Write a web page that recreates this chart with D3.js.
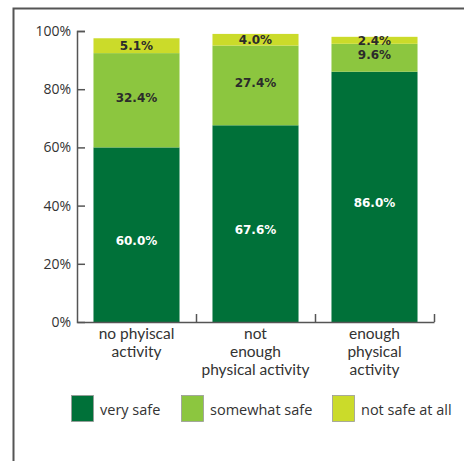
<!DOCTYPE html>
<html><head><meta charset="utf-8">
<script src="https://cdn.jsdelivr.net/npm/d3@7"></script>
<style>body{margin:0;background:#fff}svg{display:block}</style>
</head><body>
<script>
const categories = [["no phyiscal","activity"],["not","enough","physical activity"],["enough","physical","activity"]];
const seriesNames = ["very safe","somewhat safe","not safe at all"];
const verySafe = [60.0, 67.6, 86.0];
const somewhatSafe = [32.4, 27.4, 9.6];
const notSafe = [5.1, 4.0, 2.4];
const yTicks = [0, 20, 40, 60, 80, 100];
const colors = ["#007139", "#8cc63f", "#cbdb2a"];
const labelColors = ["#ffffff", "#2b2b2b", "#2b2b2b"];

const W = 464, H = 461;
const svg = d3.select("body").append("svg").attr("width", W).attr("height", H);

// frame
svg.append("path").attr("d", "M13.5,470V8.5H470").attr("fill","none").attr("stroke","#555").attr("stroke-width",2);

const x0 = 77, x1 = 434, yTop = 31, yBot = 322;
const x = d3.scaleBand().domain([0,1,2]).range([x0, x1]).paddingInner(0.277).paddingOuter(0.1385);
const y = d3.scaleLinear().domain([0,100]).range([yBot, yTop]);

const rows = [0,1,2].map(i => ({i, v:[verySafe[i], somewhatSafe[i], notSafe[i]]}));
const stack = d3.stack().keys([0,1,2]).value((d,k)=>d.v[k]);
const layers = stack(rows);

layers.forEach((layer, k) => {
  svg.append("g").selectAll("rect").data(layer).join("rect")
    .attr("x", d => x(d.data.i)).attr("width", x.bandwidth())
    .attr("y", d => y(d[1])).attr("height", d => y(d[0]) - y(d[1]))
    .attr("fill", colors[k]);
});
layers.forEach((layer, k) => {
  svg.append("g").selectAll("text").data(layer).join("text")
    .attr("x", d => x(d.data.i) + x.bandwidth()/2)
    .attr("y", d => (y(d[0]) + y(d[1]))/2 + (k===0 ? 6 : k===1 ? -3 : 0))
    .attr("dy", "0.36em")
    .attr("text-anchor","middle")
    .attr("font-family","DejaVu Sans").attr("font-weight","bold").attr("font-size",12)
    .attr("fill", labelColors[k])
    .text(d => d.data.v[k].toFixed(1) + "%");
});

// y axis
const gy = svg.append("g").attr("transform", `translate(${x0},0)`)
  .call(d3.axisLeft(y).tickValues(yTicks).tickSize(-8).tickPadding(6).tickFormat(d => d + "%"));
gy.selectAll("path,line").attr("stroke","#555").attr("stroke-width",1.5);
gy.selectAll("text").attr("font-family","Open Sans").attr("font-size",14).attr("fill","#333");
gy.selectAll(".tick").filter(d => d===0).select("line").remove();

// x axis
const xl = d3.scaleLinear().domain([0,3]).range([x0, x1]);
const gx = svg.append("g").attr("transform", `translate(0,${yBot})`)
  .call(d3.axisBottom(xl).tickValues([1,2,3]).tickSize(-8).tickSizeOuter(0).tickFormat(""));
gx.selectAll("path,line").attr("stroke","#555").attr("stroke-width",1.5);

// category labels
categories.forEach((lines, i) => {
  lines.forEach((s, j) => {
    svg.append("text").attr("text-anchor","middle")
      .attr("font-family","Lato").attr("font-size",15.5).attr("fill","#333")
      .attr("x", x(i) + x.bandwidth()/2).attr("y", 339 + j*17.8).text(s);
  });
});

// legend
const legX = [71, 181, 332];
seriesNames.forEach((n, k) => {
  svg.append("rect").attr("x", legX[k]+0.5).attr("y", 395.5).attr("width", 22).attr("height", 26)
    .attr("fill", colors[k]).attr("stroke","#999").attr("stroke-width",0.8);
  svg.append("text").attr("x", legX[k] + 29).attr("y", 415)
    .attr("font-family","Open Sans").attr("font-size",14.5).attr("fill","#333").text(n);
});
</script>
</body></html>
